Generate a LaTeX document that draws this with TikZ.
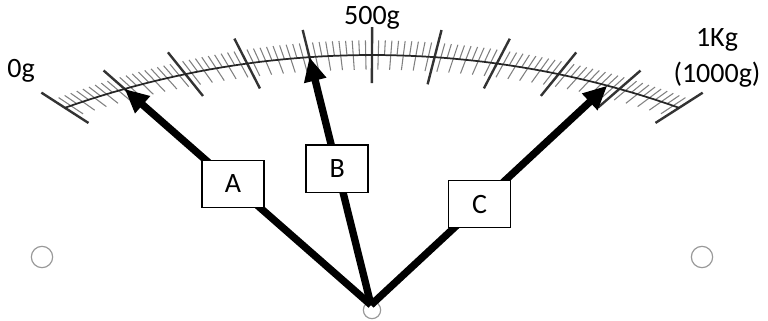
\documentclass[tikz,border=0pt]{standalone}
\usepackage{fontspec}
\setmainfont{Carlito}
\usetikzlibrary{arrows.meta,calc}
\newcommand{\dialfont}{\fontsize{21}{27}\selectfont}
\tikzset{
  scalearc/.style={draw=black!85,line width=1.3pt},
  majortick/.style={draw=black!80,line width=1.8pt},
  minortick/.style={draw=black!50,line width=0.8pt},
  needle/.style={-{Triangle[length=18pt,width=16pt]},line width=5.5pt,draw=black},
  readbox/.style={draw=black,fill=white,line width=1pt,minimum width=46.5pt,
                  minimum height=35.5pt,inner sep=0pt,font=\dialfont},
  weight/.style={font=\dialfont,inner sep=0pt,anchor=base},
  hole/.style={circle,draw=black!40,line width=0.9pt,minimum size=16pt,inner sep=0pt}
}

\begin{document}
\begin{tikzpicture}[x=0.75pt,y=-0.75pt]
  \useasboundingbox (0,0) rectangle (768,321);

  % dial: big arc, every tick aimed at the hub
  \coordinate (hub) at (371,305);
  \foreach \i in {0,...,100}{
    \pgfmathsetmacro{\ang}{109.5-0.39*\i}
    \coordinate (p) at ({372+920*cos(\ang)},{975-920*sin(\ang)});
    \pgfmathtruncatemacro{\r}{mod(\i,10)}
    \pgfmathtruncatemacro{\s}{mod(\i,2)}
    \ifnum\r=0
      \draw[majortick] ($(p)!-21pt!(hub)$) -- ($(p)!21pt!(hub)$);
    \else
      \draw[minortick] ($(p)!-11pt!(hub)$) -- (p);
      \ifnum\s=1 \draw[minortick] (p) -- ($(p)!11pt!(hub)$); \fi
    \fi
  }
  \draw[scalearc] plot[domain=0:100,samples=51,smooth]
    ({372+920*cos(109.5-0.39*\x)},{975-920*sin(109.5-0.39*\x)});

  \node[weight] (zero) at (21,78) {0g};
  \node[weight] (half) at (372,25) {500g};
  \node[weight,align=center] (full) at (717,83) {1Kg\\(1000g)};

  \node[hole] (holeL) at (42,257) {};
  \node[hole] (holeR) at (702,257) {};
  \node[hole,minimum size=13pt] (axle) at (372,310) {};

  % readings: 100g, 400g, 880g
  \coordinate (tipA) at ({372+920*cos(105.6)},{975-920*sin(105.6)});
  \coordinate (tipB) at ({372+920*cos(93.9)},{975-920*sin(93.9)});
  \coordinate (tipC) at ({372+920*cos(75.18)},{975-920*sin(75.18)});
  \draw[needle] (hub) -- node[readbox,pos=0.56] (A) {A} (tipA);
  \draw[needle] (hub) -- node[readbox,pos=0.55] (B) {B} (tipB);
  \draw[needle] (hub) -- node[readbox,pos=0.46] (C) {C} (tipC);
\end{tikzpicture}
\end{document}
